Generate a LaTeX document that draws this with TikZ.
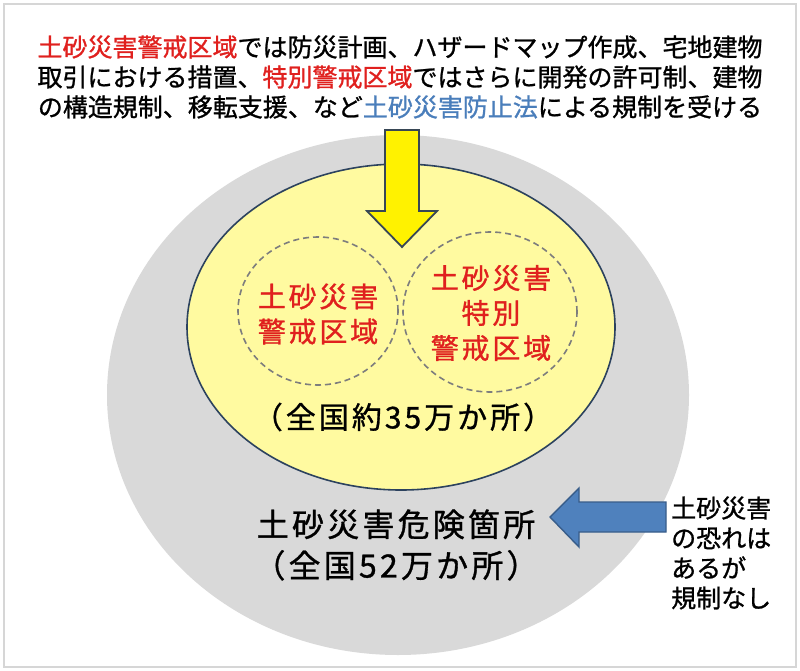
\documentclass[tikz,border=0pt]{standalone}
\usepackage{fontspec}
\setmainfont{Noto Sans CJK JP}[FakeBold=1]
\newfontfamily\zonefont{Noto Sans CJK JP}[FakeBold=1,LetterSpace=10]
\newfontfamily\countfont{Noto Sans CJK JP}[FakeBold=1,LetterSpace=10]
\usepackage{tikz}
\usetikzlibrary{shapes.geometric}
\usepackage{xcolor}
\definecolor{zonered}{RGB}{224,32,30}
\definecolor{lawblue}{RGB}{74,126,187}
\definecolor{framegray}{RGB}{214,214,214}
\definecolor{ringgray}{RGB}{217,217,217}
\definecolor{zoneyellow}{RGB}{255,250,160}
\definecolor{rimnavy}{RGB}{44,66,94}
\definecolor{dashgray}{RGB}{125,125,125}
\definecolor{arrowblue}{RGB}{79,129,189}
\definecolor{arrowedge}{RGB}{56,93,138}
\definecolor{arrowslate}{RGB}{55,70,85}

\begin{document}
\begin{tikzpicture}[x=1pt,y=-1pt]
  \tikzset{dangerring/.style={ellipse,fill=ringgray,draw=none,inner sep=0pt}}
  \tikzset{warnring/.style={ellipse,fill=zoneyellow,draw=rimnavy,line width=1.6pt,inner sep=0pt}}
  \tikzset{zonering/.style={ellipse,draw=dashgray,dashed,dash pattern=on 6pt off 4pt,line width=1.6pt,inner sep=0pt}}
  \tikzset{lawtext/.style={align=center,inner sep=0pt,font=\fontsize{25}{30}\selectfont}}
  \tikzset{zonelabel/.style={text=zonered,align=center,inner sep=0pt,font=\zonefont\fontsize{28}{35}\selectfont}}
  \tikzset{countlabel/.style={align=center,inner sep=0pt,font=\countfont\fontsize{32}{41}\selectfont}}
  \tikzset{notetext/.style={align=left,inner sep=0pt,font=\fontsize{25}{30}\selectfont}}
  \tikzset{yellowarrow/.style={fill=yellow,draw=arrowslate,line width=1.8pt,line join=miter}}
  \tikzset{bluearrow/.style={fill=arrowblue,draw=arrowedge,line width=1.4pt,line join=miter}}
  \useasboundingbox (0,0) rectangle (800,671);
  \fill[white] (0,0) rectangle (800,671);
  \draw[framegray,line width=2.5pt] (4,4) rectangle (796,667);
  % rings
  \node[dangerring,minimum width=582pt,minimum height=520pt] (danger) at (398,395) {};
  \node[warnring,minimum width=428pt,minimum height=326pt] (warn) at (401,327) {};
  \node[zonering,minimum width=160pt,minimum height=148pt] (zoneA) at (318,311) {};
  \node[zonering,minimum width=174pt,minimum height=160pt] (zoneB) at (490,312) {};
  % arrows
  \draw[yellowarrow] (385,130) -- (419,130) -- (419,211) -- (437,211) -- (402,247)
    -- (367,211) -- (385,211) -- cycle;
  \draw[bluearrow] (666,502) -- (579,502) -- (579,488) -- (550,517) -- (579,547)
    -- (579,532) -- (666,532) -- cycle;
  % texts
  \node[lawtext] (lawnote) at (400,77) {\textcolor{zonered}{土砂災害警戒区域}では防災計画、ハザードマップ作成、宅地建物\\
    取引における措置、\textcolor{zonered}{特別警戒区域}ではさらに開発の許可制、建物\\
    の構造規制、移転支援、など\textcolor{lawblue}{土砂災害防止法}による規制を受ける};
  \node[zonelabel] (zoneAtext) at (318,314) {土砂災害\\警戒区域};
  \node[zonelabel] (zoneBtext) at (491,313) {土砂災害\\特別\\警戒区域};
  \node[countlabel,font=\countfont\fontsize{30}{36}\selectfont] (warncount) at (403,417) {（全国約35万か所）};
  \node[countlabel] (dangertext) at (396,545) {土砂災害危険箇所\\（全国52万か所）};
  \node[notetext,anchor=west] (note) at (671,553) {土砂災害\\の恐れは\\あるが\\規制なし};
\end{tikzpicture}
\end{document}
